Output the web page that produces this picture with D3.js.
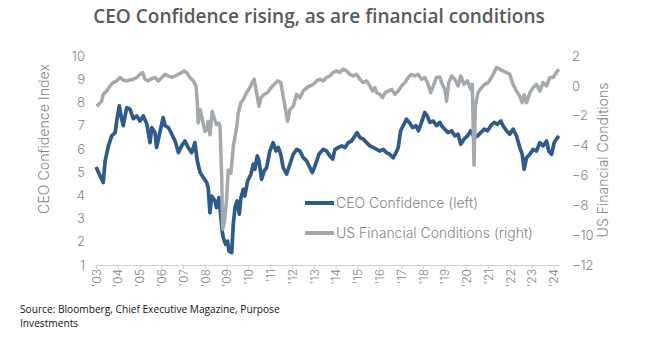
<!DOCTYPE html>
<html>
<head>
<meta charset="utf-8">
<script src="https://cdn.jsdelivr.net/npm/d3@7"></script>
<style>
    body { margin: 0; background: #fff; }
    text { font-family: Inter, "Open Sans", sans-serif; font-weight: 300; }
</style>
</head>
<body>
<svg id="chart" width="645" height="337"></svg>
<script>
// [decimal year, CEO confidence index]
const ceoSeries = [
    [2003.00, 5.22], [2003.33, 4.55], [2003.42, 5.48], [2003.57, 6.13], [2003.72, 6.56], [2003.88, 6.7], [2003.95, 7.2],
    [2004.07, 7.85], [2004.18, 7.28], [2004.25, 7.0], [2004.41, 7.78], [2004.56, 7.71], [2004.71, 7.3], [2004.87, 7.42],
    [2005.02, 7.2], [2005.17, 7.42], [2005.33, 7.08], [2005.48, 6.27], [2005.56, 6.92], [2005.71, 6.7], [2005.78, 6.06], [2005.93, 6.7],
    [2006.08, 7.35], [2006.17, 7.0], [2006.32, 6.92], [2006.48, 6.63], [2006.63, 6.34], [2006.78, 5.84], [2006.93, 6.13],
    [2007.08, 6.34], [2007.23, 6.06], [2007.39, 5.84], [2007.54, 6.27], [2007.65, 5.48], [2007.78, 4.98], [2007.93, 4.76],
    [2008.08, 4.55], [2008.15, 4.33], [2008.23, 3.25], [2008.31, 3.97], [2008.46, 3.76], [2008.53, 3.47], [2008.64, 3.9],
    [2008.69, 3.47], [2008.79, 2.47], [2008.84, 2.18], [2008.95, 1.89],
    [2009.04, 2.03], [2009.10, 1.6], [2009.23, 1.53], [2009.30, 2.75], [2009.38, 3.47], [2009.48, 3.76], [2009.58, 3.19],
    [2009.65, 3.9], [2009.76, 4.26], [2009.83, 3.97], [2009.96, 4.62],
    [2010.11, 4.91], [2010.22, 5.34], [2010.29, 5.12], [2010.40, 5.7], [2010.48, 5.48], [2010.60, 4.69], [2010.72, 5.05],
    [2010.83, 5.19], [2010.98, 5.91],
    [2011.13, 6.27], [2011.26, 5.91], [2011.37, 6.06], [2011.48, 5.77], [2011.59, 5.19], [2011.75, 4.91], [2011.90, 5.34],
    [2012.05, 5.77], [2012.21, 5.98], [2012.36, 5.91], [2012.51, 5.62], [2012.67, 5.48], [2012.82, 5.19], [2012.93, 4.98],
    [2013.08, 5.34], [2013.23, 5.77], [2013.43, 5.98], [2013.58, 5.91], [2013.73, 5.7], [2013.86, 5.56], [2013.97, 5.98],
    [2014.12, 6.06], [2014.28, 6.13], [2014.43, 6.06], [2014.58, 6.27], [2014.73, 6.34], [2014.88, 6.56], [2014.98, 6.7],
    [2015.11, 6.49], [2015.26, 6.42], [2015.42, 6.27], [2015.57, 6.13], [2015.73, 6.06], [2015.88, 5.98],
    [2016.03, 5.91], [2016.18, 5.98], [2016.33, 5.84], [2016.48, 5.77], [2016.64, 5.62], [2016.77, 5.84], [2016.87, 6.06], [2016.98, 6.78],
    [2017.10, 7.0], [2017.25, 7.28], [2017.38, 7.14], [2017.53, 6.92], [2017.68, 7.0], [2017.80, 6.78], [2017.94, 7.14],
    [2018.09, 7.57], [2018.20, 7.42], [2018.33, 7.14], [2018.48, 7.2], [2018.63, 7.0], [2018.78, 7.14], [2018.86, 7.0],
    [2019.01, 6.85], [2019.16, 6.7], [2019.32, 6.78], [2019.47, 6.56], [2019.62, 6.63], [2019.74, 6.2], [2019.89, 6.42],
    [2020.05, 6.56], [2020.20, 6.78], [2020.35, 6.49], [2020.51, 6.56], [2020.66, 6.7], [2020.82, 6.85], [2020.97, 6.78],
    [2021.12, 7.0], [2021.28, 7.14], [2021.43, 7.06], [2021.58, 7.2], [2021.68, 7.0], [2021.84, 6.78], [2021.99, 6.63],
    [2022.14, 6.85], [2022.30, 6.56], [2022.45, 6.06], [2022.56, 5.77], [2022.65, 5.12], [2022.76, 5.62], [2022.91, 5.77],
    [2023.06, 5.98], [2023.22, 5.91], [2023.37, 6.27], [2023.52, 6.13], [2023.68, 6.34], [2023.78, 5.91], [2023.91, 5.77],
    [2024.03, 6.27], [2024.13, 6.42], [2024.24, 6.56]
];

// [decimal year, US financial conditions index]
const fciSeries = [
    [2003.03, -1.36], [2003.26, -1.03], [2003.33, -0.57], [2003.49, -0.35], [2003.64, -0.01], [2003.79, 0.22], [2003.95, 0.33],
    [2004.10, 0.56], [2004.25, 0.39], [2004.41, 0.33], [2004.56, 0.39], [2004.71, 0.44], [2004.87, 0.56],
    [2005.02, 0.78], [2005.14, 0.89], [2005.25, 0.44], [2005.40, 0.33], [2005.56, 0.49], [2005.71, 0.56], [2005.86, 0.33],
    [2006.02, 0.56], [2006.17, 0.78], [2006.32, 0.66], [2006.48, 0.56], [2006.63, 0.66], [2006.78, 0.78], [2006.93, 0.89],
    [2007.05, 1.0], [2007.16, 0.89], [2007.31, 0.56], [2007.47, 0.33], [2007.59, 0.0], [2007.65, -1.13], [2007.69, -2.49],
    [2007.78, -1.59], [2007.93, -2.6], [2008.00, -3.05], [2008.08, -2.94], [2008.15, -2.38], [2008.23, -3.28], [2008.33, -1.7],
    [2008.43, -2.15], [2008.53, -2.6], [2008.64, -2.49], [2008.69, -2.72], [2008.77, -6.1], [2008.81, -9.6], [2008.88, -9.25],
    [2008.99, -7.67], [2009.07, -5.64], [2009.19, -5.86], [2009.30, -4.07], [2009.46, -2.72], [2009.53, -1.81], [2009.65, -1.13],
    [2009.76, -0.91], [2009.91, -0.46],
    [2010.06, -0.12], [2010.17, 0.22], [2010.26, 0.44], [2010.37, -0.46], [2010.48, -1.36], [2010.57, -0.8], [2010.72, -0.57],
    [2010.87, -0.46], [2011.03, -0.12], [2011.18, 0.1], [2011.33, 0.33], [2011.48, 0.22], [2011.59, -0.69], [2011.70, -1.59],
    [2011.79, -2.38], [2011.90, -1.59], [2012.05, -1.36], [2012.21, -0.57], [2012.36, -0.8], [2012.51, -0.35], [2012.67, -0.12],
    [2012.82, 0.0], [2012.97, 0.1], [2013.13, 0.33], [2013.28, 0.44], [2013.43, 0.33], [2013.58, 0.56], [2013.73, 0.66],
    [2013.88, 0.89], [2014.04, 1.0], [2014.19, 0.89], [2014.34, 1.12], [2014.50, 1.0], [2014.65, 0.78], [2014.80, 0.66],
    [2014.96, 0.78], [2015.11, 0.44], [2015.26, 0.22], [2015.42, 0.33], [2015.57, 0.0], [2015.69, -0.35], [2015.80, -0.12],
    [2015.88, -0.46], [2016.03, -0.57], [2016.15, -0.8], [2016.26, -0.46], [2016.41, -0.35], [2016.57, -0.24], [2016.72, -0.57],
    [2016.87, -0.35], [2017.03, 0.0], [2017.18, 0.22], [2017.33, 0.56], [2017.48, 0.78], [2017.63, 0.66], [2017.78, 0.78],
    [2017.94, 0.44], [2018.09, 0.56], [2018.24, 0.1], [2018.36, -0.46], [2018.48, 0.0], [2018.63, 0.56], [2018.78, 0.6],
    [2018.86, 0.22], [2019.01, -0.24], [2019.09, -1.03], [2019.19, 0.22], [2019.32, 0.66], [2019.47, 0.44], [2019.62, 0.0],
    [2019.74, 0.66], [2019.89, 0.1], [2020.05, 0.33], [2020.20, -0.24], [2020.27, 0.1], [2020.35, -5.31], [2020.41, -1.36],
    [2020.53, -0.46], [2020.69, -0.12], [2020.84, 0.1], [2021.00, 0.22], [2021.15, 0.56], [2021.27, 0.89], [2021.38, 1.23],
    [2021.53, 1.12], [2021.68, 1.0], [2021.84, 0.89], [2021.99, 0.78], [2022.14, 0.1], [2022.30, -0.35], [2022.45, -0.69],
    [2022.56, -1.13], [2022.65, -0.6], [2022.76, -1.13], [2022.91, -0.46], [2023.06, -0.12], [2023.22, 0.1], [2023.37, -0.35],
    [2023.52, 0.22], [2023.68, 0.0], [2023.83, 0.56], [2023.98, 0.56], [2024.13, 0.89], [2024.24, 1.12]
];

const yearTicks = d3.range(2003, 2025);
const leftTicks = d3.range(1, 11);
const rightTicks = d3.range(-12, 3, 2);
const legendLabels = ['CEO Confidence (left)', 'US Financial Conditions (right)'];

const BLUE = '#2e5a8c';
const GRAY = '#a4a9af';
const LABEL = '#858585';

const svg = d3.select('#chart');
svg.append('rect').attr('width', 645).attr('height', 337).attr('fill', '#fff');

const x = d3.scaleLinear().domain([2003, 2024.25]).range([96, 559]);
const yLeft = d3.scaleLinear().domain([1, 10]).range([265, 56]);
const yRight = d3.scaleLinear().domain([-12, 2]).range([265, 56]);

// make a text element a given width by scaling its font size
function fitWidth(sel, width) {
    const len = sel.node().getComputedTextLength();
    const fs = parseFloat(sel.style('font-size'));
    sel.style('font-size', (fs * width / len) + 'px');
}

// title
svg.append('text')
    .attr('x', 319)
    .attr('y', 23)
    .attr('text-anchor', 'middle')
    .style('font-family', '"Open Sans", sans-serif')
    .style('font-weight', 600)
    .style('font-size', '17px')
    .attr('fill', '#595959')
    .text('CEO Confidence rising, as are financial conditions')
    .call(fitWidth, 452);

// x axis
const xAxis = svg.append('g')
    .attr('transform', 'translate(0,265)')
    .call(d3.axisBottom(x)
        .tickValues(yearTicks)
        .tickFormat(d => "'" + String(d).slice(2))
        .tickSize(4)
        .tickSizeOuter(0));
xAxis.select('.domain').attr('stroke', '#d0d0d0');
xAxis.selectAll('.tick line').attr('stroke', '#d0d0d0');
xAxis.selectAll('.tick text')
    .attr('fill', LABEL)
    .style('font-size', '12px')
    .attr('text-anchor', 'end')
    .attr('x', -4)
    .attr('y', 0)
    .attr('dy', '0.35em')
    .attr('transform', 'rotate(-90)');

// left axis
const leftAxis = svg.append('g')
    .attr('transform', 'translate(96,0)')
    .call(d3.axisLeft(yLeft).tickValues(leftTicks).tickSize(0).tickPadding(11));
leftAxis.select('.domain').remove();
leftAxis.selectAll('text').attr('fill', LABEL).style('font-size', '13px');

// right axis
const rightAxis = svg.append('g')
    .attr('transform', 'translate(559,0)')
    .call(d3.axisRight(yRight).tickValues(rightTicks).tickSize(0).tickPadding(13));
rightAxis.select('.domain').remove();
rightAxis.selectAll('text').attr('fill', LABEL).style('font-size', '13px');

// axis titles
svg.append('text')
    .attr('transform', 'translate(49,139) rotate(-90)')
    .attr('text-anchor', 'middle')
    .attr('fill', LABEL)
    .style('font-size', '14px')
    .text('CEO Confidence Index')
    .call(fitWidth, 150);

svg.append('text')
    .attr('transform', 'translate(608,160) rotate(-90)')
    .attr('text-anchor', 'middle')
    .attr('fill', LABEL)
    .style('font-size', '14px')
    .text('US Financial Conditions')
    .call(fitWidth, 155);

// series
const ceoLine = d3.line()
    .x(d => x(d[0]))
    .y(d => yLeft(d[1]));
const fciLine = d3.line()
    .x(d => x(d[0]))
    .y(d => yRight(d[1]));

svg.append('path')
    .datum(ceoSeries)
    .attr('d', ceoLine)
    .attr('fill', 'none')
    .attr('stroke', BLUE)
    .attr('stroke-width', 3.7)
    .attr('stroke-linejoin', 'round');

svg.append('path')
    .datum(fciSeries)
    .attr('d', fciLine)
    .attr('fill', 'none')
    .attr('stroke', GRAY)
    .attr('stroke-width', 3.5)
    .attr('stroke-linejoin', 'round');

// legend
const legend = svg.append('g')
    .selectAll('g')
    .data(legendLabels)
    .enter()
    .append('g')
    .attr('transform', (d, i) => `translate(305,${203 + i * 30})`);
legend.append('line')
    .attr('x1', 0)
    .attr('x2', 29)
    .attr('stroke', (d, i) => i === 0 ? BLUE : GRAY)
    .attr('stroke-width', 4);
legend.append('text')
    .attr('x', 31)
    .attr('dy', '0.35em')
    .attr('fill', LABEL)
    .style('font-size', '14px')
    .text(d => d);
legend.select('text').filter((d, i) => i === 1).call(fitWidth, 197);
legend.select('text').filter((d, i) => i === 0).each(function () {
    d3.select(this).style('font-size', legend.select('text').filter((d, i) => i === 1).style('font-size'));
});

// source note
const note = svg.append('text')
    .attr('x', 20)
    .attr('y', 313)
    .attr('fill', '#111')
    .style('font-family', '"Open Sans", sans-serif')
    .style('font-weight', 400)
    .style('font-size', '11px')
    .text('Source: Bloomberg, Chief Executive Magazine, Purpose')
    .call(fitWidth, 260);
svg.append('text')
    .attr('x', 20)
    .attr('y', 327)
    .attr('fill', '#111')
    .style('font-family', '"Open Sans", sans-serif')
    .style('font-weight', 400)
    .style('font-size', note.style('font-size'))
    .text('Investments');
</script>
</body>
</html>
